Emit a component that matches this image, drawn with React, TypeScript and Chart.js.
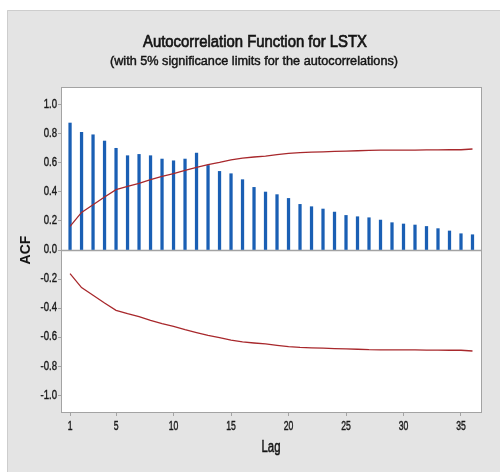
import { useEffect, useRef } from "react";
import { Chart, registerables } from "chart.js";

Chart.register(...registerables);

// Lag numbers on the horizontal axis
const lags = [
  1, 2, 3, 4, 5, 6, 7, 8, 9, 10, 11, 12, 13, 14, 15, 16, 17, 18,
  19, 20, 21, 22, 23, 24, 25, 26, 27, 28, 29, 30, 31, 32, 33, 34, 35, 36,
];

// Sample autocorrelation at each lag
const acfValues = [
  0.874, 0.81, 0.793, 0.75, 0.7, 0.649, 0.658, 0.649, 0.626, 0.614, 0.626, 0.667,
  0.582, 0.541, 0.525, 0.484, 0.431, 0.399, 0.381, 0.355, 0.314, 0.298, 0.282, 0.261,
  0.238, 0.229, 0.222, 0.206, 0.188, 0.179, 0.172, 0.162, 0.147, 0.131, 0.112, 0.105,
];

// Upper 5% significance limit at each lag (the lower limit mirrors it)
const upperLimit = [
  0.163, 0.259, 0.312, 0.365, 0.415, 0.438, 0.458, 0.484, 0.507, 0.525, 0.548, 0.568,
  0.587, 0.603, 0.621, 0.633, 0.64, 0.646, 0.656, 0.665, 0.67, 0.673, 0.676, 0.679,
  0.681, 0.683, 0.686, 0.687, 0.687, 0.688, 0.688, 0.689, 0.689, 0.69, 0.69, 0.695,
];
const lowerLimit = upperLimit.map((v) => -v);

const xTickValues = [1, 5, 10, 15, 20, 25, 30, 35];
const yTickValues = [-1.0, -0.8, -0.6, -0.4, -0.2, 0.0, 0.2, 0.4, 0.6, 0.8, 1.0];

const TITLE = "Autocorrelation Function for LSTX";
const SUBTITLE = "(with 5% significance limits for the autocorrelations)";
const X_TITLE = "Lag";
const Y_TITLE = "ACF";

const SANS = '"Liberation Sans", Arial, sans-serif';

const BAR_BLUE = "#1a5fb4";
const LIMIT_RED = "#a8282c";
const AXIS_GREY = "#a3a3a3";
const PANEL_GREY = "#e4e4e4";
const TEXT_DARK = "#141414";

// Draws text squeezed horizontally, with a faint outline for a heavier face
function narrowText(
  ctx: any,
  text: string,
  x: number,
  y: number,
  squeeze: number,
  weight = 0.35
) {
  ctx.save();
  ctx.translate(x, y);
  ctx.scale(squeeze, 1);
  ctx.fillText(text, 0, 0);
  if (weight > 0) {
    ctx.lineWidth = weight;
    ctx.strokeStyle = ctx.fillStyle;
    ctx.strokeText(text, 0, 0);
  }
  ctx.restore();
}

const framePlugin = {
  id: "acfFrame",
  beforeDraw(chart: any) {
    const { ctx, chartArea: a, width, height } = chart;
    ctx.save();
    ctx.fillStyle = "#ffffff";
    ctx.fillRect(0, 0, width, height);
    ctx.fillStyle = PANEL_GREY;
    ctx.fillRect(7, 10, width - 7, height - 10);
    ctx.strokeStyle = "#cdcdcd";
    ctx.lineWidth = 1;
    ctx.beginPath();
    ctx.moveTo(7.5, height);
    ctx.lineTo(7.5, 10.5);
    ctx.lineTo(width, 10.5);
    ctx.stroke();

    ctx.fillStyle = "#ffffff";
    ctx.fillRect(a.left, a.top, a.right - a.left, a.bottom - a.top);

    ctx.fillStyle = TEXT_DARK;
    ctx.textAlign = "center";
    ctx.textBaseline = "middle";

    ctx.font = `17px ${SANS}`;
    const tw = ctx.measureText(TITLE).width;
    narrowText(ctx, TITLE, 255, 42, 224 / tw, 0.7);

    ctx.font = `13px ${SANS}`;
    const sw = ctx.measureText(SUBTITLE).width;
    narrowText(ctx, SUBTITLE, 254, 61, 288 / sw, 0.45);

    ctx.font = `16px ${SANS}`;
    const lw = ctx.measureText(X_TITLE).width;
    narrowText(ctx, X_TITLE, 271, 448, 19 / lw, 0.5);

    ctx.translate(26, 250);
    ctx.rotate(-Math.PI / 2);
    ctx.font = `bold 14px ${SANS}`;
    ctx.fillText(Y_TITLE, 0, 0);
    ctx.restore();
  },
  beforeDatasetsDraw(chart: any) {
    const { ctx, chartArea: a, scales } = chart;
    const y0 = Math.round(scales.y.getPixelForValue(0)) + 0.5;
    ctx.save();
    ctx.strokeStyle = AXIS_GREY;
    ctx.lineWidth = 1.5;
    ctx.beginPath();
    ctx.moveTo(a.left, y0);
    ctx.lineTo(a.right, y0);
    ctx.stroke();
    ctx.restore();
  },
  afterDraw(chart: any) {
    const { ctx, chartArea: a, scales } = chart;
    ctx.save();
    ctx.strokeStyle = AXIS_GREY;
    ctx.lineWidth = 1;
    ctx.strokeRect(
      Math.round(a.left) - 0.5,
      Math.round(a.top) - 0.5,
      Math.round(a.right - a.left) + 1,
      Math.round(a.bottom - a.top) + 1
    );

    // condensed tick labels
    ctx.fillStyle = "#1a1a1a";
    ctx.font = `12px ${SANS}`;
    ctx.textBaseline = "middle";
    ctx.textAlign = "right";
    yTickValues.forEach((v) => {
      narrowText(ctx, v.toFixed(1), 57, scales.y.getPixelForValue(v), 0.8, 0.4);
    });
    ctx.textAlign = "center";
    xTickValues.forEach((v) => {
      narrowText(ctx, String(v), scales.x.getPixelForValue(v), a.bottom + 15, 0.72, 0.4);
    });
    ctx.restore();
  },
};

export default function App() {
  const canvasRef = useRef<HTMLCanvasElement | null>(null);

  useEffect(() => {
    const canvas = canvasRef.current;
    if (!canvas) return;

    const chart = new Chart(canvas, {
      type: "bar",
      data: {
        datasets: [
          {
            type: "bar",
            label: "ACF",
            data: lags.map((lag, i) => ({ x: lag, y: acfValues[i] })),
            backgroundColor: BAR_BLUE,
            borderWidth: 0,
            barThickness: 2.6,
            order: 2,
          } as any,
          {
            type: "line",
            label: "Upper limit",
            data: lags.map((lag, i) => ({ x: lag, y: upperLimit[i] })),
            borderColor: LIMIT_RED,
            borderWidth: 1.3,
            pointRadius: 0,
            tension: 0,
            fill: false,
            order: 1,
          } as any,
          {
            type: "line",
            label: "Lower limit",
            data: lags.map((lag, i) => ({ x: lag, y: lowerLimit[i] })),
            borderColor: LIMIT_RED,
            borderWidth: 1.3,
            pointRadius: 0,
            tension: 0,
            fill: false,
            order: 1,
          } as any,
        ],
      },
      options: {
        responsive: false,
        animation: false,
        events: [],
        layout: { padding: { left: 7, top: 88, right: 19, bottom: 0 } },
        plugins: {
          legend: { display: false },
          title: { display: false },
          tooltip: { enabled: false },
        },
        scales: {
          x: {
            type: "linear",
            min: 0.3,
            max: 36.74,
            offset: false,
            afterBuildTicks: (scale: any) => {
              scale.ticks = xTickValues.map((v) => ({ value: v }));
            },
            afterFit: (scale: any) => {
              scale.height = 60;
            },
            grid: {
              offset: false,
              drawOnChartArea: false,
              drawTicks: true,
              tickLength: 4,
              color: AXIS_GREY,
            },
            border: { display: false },
            ticks: { display: false, autoSkip: false },
          },
          y: {
            type: "linear",
            min: -1.115,
            max: 1.115,
            afterBuildTicks: (scale: any) => {
              scale.ticks = yTickValues.map((v) => ({ value: v }));
            },
            afterFit: (scale: any) => {
              scale.width = 55;
            },
            grid: {
              drawOnChartArea: false,
              drawTicks: true,
              tickLength: 4,
              color: AXIS_GREY,
            },
            border: { display: false },
            ticks: { display: false, autoSkip: false },
          },
        },
      },
      plugins: [framePlugin],
    });

    return () => chart.destroy();
  }, []);

  return (
    <div style={{ position: "fixed", left: 0, top: 0, width: 500, height: 472 }}>
      <canvas ref={canvasRef} width={500} height={472} />
    </div>
  );
}
